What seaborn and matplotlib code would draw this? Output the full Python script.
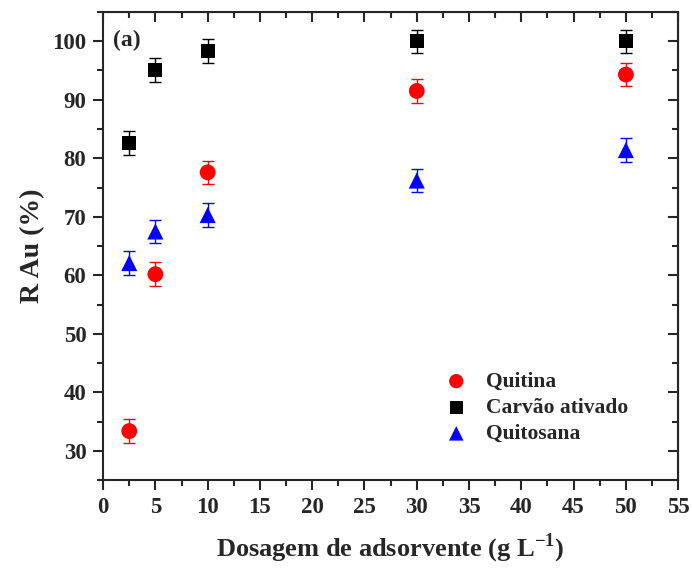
import numpy as np
import pandas as pd
import matplotlib
matplotlib.use('Agg')
import matplotlib.pyplot as plt
import seaborn as sns

# Data
dosagem = [2.5, 5, 10, 30, 50]
quitina = [33.4, 60.2, 77.6, 91.5, 94.3]
quitina_err = [2.0, 2.0, 2.0, 2.0, 2.0]
carvao = [82.6, 95.1, 98.3, 100.0, 100.0]
carvao_err = [2.0, 2.0, 2.0, 2.0, 2.0]
quitosana = [62.1, 67.5, 70.3, 76.2, 81.4]
quitosana_err = [2.0, 2.0, 2.0, 2.0, 2.0]

series = ['Quitina', 'Carvão ativado', 'Quitosana']
colors = {'Quitina': 'red', 'Carvão ativado': 'black', 'Quitosana': 'blue'}
markers = {'Quitina': 'o', 'Carvão ativado': 's', 'Quitosana': '^'}
sizes = {'Quitina': 130, 'Carvão ativado': 100, 'Quitosana': 135}

df = pd.DataFrame({
    'dose': dosagem * 3,
    'R': quitina + carvao + quitosana,
    'err': quitina_err + carvao_err + quitosana_err,
    'material': [s for s in series for _ in dosagem],
})

sns.set_style('ticks')
plt.rcParams['font.family'] = ['Liberation Serif', 'DejaVu Serif']
plt.rcParams['font.weight'] = 'bold'
plt.rcParams['mathtext.fontset'] = 'custom'
plt.rcParams['mathtext.rm'] = 'Liberation Serif'
plt.rcParams['mathtext.bf'] = 'Liberation Serif:bold'

fig = plt.figure(figsize=(6.92, 5.69), dpi=100)
ax = fig.add_axes([0.149, 0.156, 0.831, 0.823])

for name in series:
    sub = df[df['material'] == name]
    ax.errorbar(sub['dose'], sub['R'], yerr=sub['err'], fmt='none',
                ecolor=colors[name], elinewidth=1, capsize=4, capthick=1, zorder=2)
    sns.scatterplot(data=sub, x='dose', y='R', ax=ax, color=colors[name],
                    marker=markers[name], s=sizes[name], edgecolor='none',
                    label=name, zorder=3)

ax.set_xlim(0, 55)
ax.set_ylim(25, 105)
ax.set_xticks(np.arange(0, 56, 5))
ax.set_yticks(np.arange(30, 101, 10))
ax.set_xticks(np.arange(2.5, 55, 5), minor=True)
ax.set_yticks(np.arange(25, 106, 10), minor=True)

for side in ['left', 'right', 'top', 'bottom']:
    ax.spines[side].set_linewidth(1.5)
    ax.spines[side].set_visible(True)

ax.tick_params(axis='both', which='major', direction='out', length=7, width=1.5,
               labelsize=16.5, top=False, right=False, pad=5)
ax.tick_params(axis='both', which='minor', direction='out', length=4, width=1.5,
               top=False, right=False)
# mirrored inner ticks on top and right
ax2 = ax.secondary_xaxis('top')
ax2.set_xticks(np.arange(0, 56, 5))
ax2.set_xticks(np.arange(2.5, 55, 5), minor=True)
ax2.tick_params(which='major', direction='in', length=7, width=1.5, labeltop=False)
ax2.tick_params(which='minor', direction='in', length=4, width=1.5)
ax3 = ax.secondary_yaxis('right')
ax3.set_yticks(np.arange(30, 101, 10))
ax3.set_yticks(np.arange(25, 106, 10), minor=True)
ax3.tick_params(which='major', direction='in', length=7, width=1.5, labelright=False)
ax3.tick_params(which='minor', direction='in', length=4, width=1.5)

for lbl in ax.get_xticklabels() + ax.get_yticklabels():
    lbl.set_fontweight('bold')

ax.set_xlabel('Dosagem de adsorvente (g L$^{-1}$)', fontsize=19,
              fontweight='bold', labelpad=10)
ax.set_ylabel('R Au (%)', fontsize=20, fontweight='bold', labelpad=5)

ax.text(0.017, 0.962, '(a)', transform=ax.transAxes, fontsize=17,
        fontweight='bold', va='top', ha='left')

leg = ax.legend(loc='lower left', bbox_to_anchor=(0.543, 0.036), frameon=False,
                prop={'weight': 'bold', 'size': 15.5},
                handletextpad=0.4, labelspacing=0.28, markerscale=0.9)

fig.savefig('out.png', dpi=100)
